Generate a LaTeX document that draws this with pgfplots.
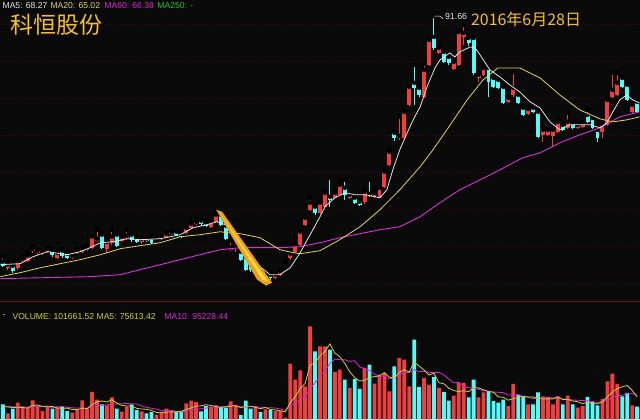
\documentclass[border=0pt]{standalone}
\usepackage{pgfplots}
\pgfplotsset{compat=1.18}
\usepackage{pgfplotstable}
\usepackage{fontspec}
\setmainfont{Liberation Sans}
\newfontfamily\cjk{Noto Sans CJK SC}
\definecolor{bg}{RGB}{10,10,10}
\definecolor{cred}{RGB}{238,62,62}
\definecolor{ccyan}{RGB}{84,250,250}
\definecolor{ma5}{RGB}{228,228,228}
\definecolor{ma20}{RGB}{222,212,96}
\definecolor{ma60}{RGB}{214,52,214}
\definecolor{gridc}{RGB}{52,14,14}
\definecolor{sepc}{RGB}{110,22,22}
\definecolor{gold}{RGB}{242,192,48}
\definecolor{vol}{RGB}{206,206,60}
\definecolor{mag}{RGB}{214,40,214}
\definecolor{grn}{RGB}{40,190,40}
\definecolor{arrowo}{RGB}{236,160,30}
\definecolor{arrowy}{RGB}{252,214,70}

% up (red) candles: index open high low close
\pgfplotstableread{
i o h l c
1 23.64 24.99 23.10 24.45
3 23.64 25.80 23.10 25.26
4 25.53 26.61 24.99 26.07
5 25.53 27.42 25.26 26.88
6 28.23 29.58 27.69 28.77
7 27.69 28.77 27.15 28.23
8 27.42 28.23 27.15 27.96
9 27.96 29.04 27.69 28.77
11 26.34 27.96 26.07 27.69
14 26.34 27.15 26.07 26.88
15 27.69 28.77 27.42 28.23
16 27.96 29.31 27.69 28.77
17 28.50 29.58 28.23 29.04
18 29.04 32.28 28.77 32.01
19 30.93 33.90 30.66 31.47
21 28.77 31.20 27.69 30.66
22 30.39 33.90 29.85 32.01
24 30.93 32.28 30.66 32.01
25 31.74 33.90 31.20 32.28
28 30.66 31.74 30.12 31.47
31 30.39 31.20 30.12 30.93
32 31.47 32.28 31.20 32.01
33 32.01 33.09 31.74 32.82
34 32.82 33.63 32.55 33.36
37 33.09 34.71 32.82 34.44
38 34.44 36.06 34.17 35.52
39 35.52 37.14 35.25 36.06
42 34.71 36.33 34.44 36.06
43 36.06 38.49 35.79 37.95
46 28.50 30.93 28.23 29.04
47 29.04 30.66 27.96 29.31
51 21.75 23.10 21.21 22.56
53 20.40 21.75 19.86 21.48
55 20.94 22.02 20.67 21.75
56 21.75 23.10 21.48 22.56
57 24.99 25.26 24.99 25.26
58 26.34 28.50 25.80 27.42
59 27.96 30.12 27.69 29.85
60 29.85 33.63 29.58 33.36
61 35.25 37.41 34.98 37.14
62 39.30 42.54 39.03 41.19
64 38.49 41.73 38.22 41.19
65 40.11 44.16 39.84 43.89
67 42.54 44.70 42.27 43.89
68 43.35 46.86 43.08 46.05
70 42.54 43.62 42.27 43.35
73 41.46 44.70 40.92 44.16
75 42.81 44.70 42.54 43.89
76 42.81 45.78 42.54 45.24
77 45.51 50.10 45.24 49.56
78 51.45 55.50 51.18 54.96
80 58.74 64.41 58.20 59.28
81 58.74 66.30 58.47 65.76
82 67.65 72.78 67.38 72.51
85 69.81 78.72 69.54 77.10
86 78.45 85.47 78.18 85.20
88 81.69 83.58 81.42 83.04
91 77.37 79.80 77.10 79.26
92 78.45 87.63 78.18 87.36
93 86.01 89.25 83.85 87.09
96 74.94 76.56 73.86 75.75
97 75.75 77.91 75.48 77.64
102 68.46 69.81 68.19 69.54
103 70.35 76.56 69.81 72.24
106 65.22 67.11 64.95 66.57
109 59.55 61.44 57.66 60.90
110 59.55 61.44 59.28 60.90
111 59.28 61.44 56.31 60.90
112 60.36 63.60 60.09 63.06
114 61.44 65.49 61.17 63.06
116 61.44 62.52 61.17 62.25
117 61.71 63.06 61.44 62.79
121 60.36 62.79 58.74 62.25
122 62.25 69.27 61.98 69.00
123 69.81 76.29 69.54 71.70
124 70.35 76.29 70.08 73.59
127 65.76 68.19 65.49 67.65
}\upT

% down (cyan) candles: index open high low close
\pgfplotstableread{
i o h l c
0 25.26 26.61 23.91 24.18
2 24.18 24.45 22.29 22.83
10 28.23 28.77 26.61 27.15
12 28.23 28.77 26.34 26.88
13 27.42 27.69 26.07 26.34
20 32.55 32.82 28.77 29.04
23 32.55 33.09 29.31 29.58
26 32.55 32.82 30.66 31.20
27 31.74 32.01 30.39 30.66
29 31.47 31.74 30.66 30.93
30 31.74 32.28 30.12 30.39
35 33.36 33.63 32.28 32.55
36 32.55 32.82 31.74 32.01
40 36.33 36.87 34.98 35.52
41 35.79 36.33 34.71 34.98
44 37.95 38.76 34.98 35.25
45 34.98 35.25 31.20 31.47
48 27.96 28.23 25.53 25.80
49 26.61 27.15 22.83 23.10
50 24.45 25.26 22.56 23.10
52 22.02 22.56 20.67 21.21
54 21.75 22.56 20.40 20.94
63 40.11 40.65 37.95 38.49
66 42.81 47.94 40.11 42.00
69 45.24 47.40 42.00 43.35
71 42.54 42.81 40.92 41.19
72 41.46 42.00 40.38 40.65
74 43.62 47.40 42.81 43.08
79 60.09 60.63 57.93 58.74
83 73.59 78.45 67.65 72.24
84 72.24 73.05 69.81 70.35
87 86.01 91.66 82.50 83.04
89 81.96 82.50 78.99 79.26
90 80.61 81.15 78.45 78.99
94 85.74 86.28 83.58 84.39
95 85.74 86.01 75.75 76.29
98 77.64 78.18 69.81 73.86
99 74.94 75.21 72.24 72.51
100 74.40 74.67 71.97 72.24
101 72.51 72.78 67.92 68.19
104 70.35 70.62 67.92 68.19
105 66.84 67.11 64.68 64.95
107 66.84 67.11 65.49 65.76
108 65.76 66.30 58.74 59.01
113 62.25 62.52 60.63 60.90
115 62.79 63.06 61.17 61.44
118 64.95 66.30 62.79 63.06
119 64.14 64.41 61.17 61.44
120 60.90 61.17 57.66 58.74
125 74.94 75.21 72.24 72.51
126 73.05 73.32 68.73 69.00
128 68.46 68.73 65.49 65.76
}\downT

% volume (thousand shares)
\pgfplotstableread{
i v
1 48
3 134
4 94
5 94
6 154
7 112
8 66
9 102
11 94
14 54
15 80
16 154
17 86
18 222
19 160
21 112
22 178
24 62
25 102
28 64
31 38
32 58
33 86
34 64
37 128
38 152
39 138
42 102
43 112
46 144
47 112
51 102
53 80
55 66
56 66
57 14
58 448
59 320
60 394
61 266
62 746
64 586
65 586
67 382
68 400
70 254
73 414
75 288
76 360
77 374
78 226
80 494
81 480
82 266
85 334
86 280
88 254
91 192
92 294
93 294
96 178
97 218
102 106
103 286
106 120
109 186
110 182
111 120
112 186
114 192
116 94
117 106
121 166
122 306
123 368
124 286
127 112
}\vupT

\pgfplotstableread{
i v
0 120
2 86
10 86
12 102
13 66
20 120
23 86
26 120
27 74
29 48
30 58
35 58
36 64
40 64
41 106
44 90
45 94
48 34
49 152
50 86
52 58
54 74
63 546
66 560
69 320
71 326
72 246
74 440
79 426
83 640
84 262
87 342
89 222
90 152
94 178
95 320
98 226
99 146
100 134
101 160
104 200
105 182
107 120
108 218
113 120
115 120
118 182
119 138
120 112
125 186
126 214
128 102
}\vdownT

% volume moving averages
\pgfplotstableread{
i m5 m10
0 104 104
1 100 104
2 96 102
3 98 102
4 96 101
5 91 100
6 112 102
7 117 104
8 104 102
9 106 101
10 104 97
11 92 102
12 90 104
13 90 97
14 80 93
15 79 92
16 91 92
17 88 89
18 119 104
19 140 110
20 148 114
21 140 116
22 158 123
23 131 125
24 112 126
25 108 128
26 109 125
27 89 124
28 84 108
29 82 97
30 73 90
31 56 83
32 53 71
33 58 71
34 61 71
35 61 67
36 66 61
37 80 67
38 93 75
39 108 84
40 109 85
41 118 92
42 112 96
43 104 99
44 95 102
45 101 105
46 108 113
47 110 111
48 95 100
49 107 101
50 106 103
51 97 103
52 86 98
53 96 95
54 80 94
55 76 91
56 69 83
57 60 73
58 134 115
59 183 131
60 248 162
61 288 179
62 435 248
63 455 294
64 508 345
65 546 397
66 605 447
67 532 484
68 503 479
69 450 479
70 383 465
71 336 471
72 309 421
73 312 407
74 336 393
75 343 363
76 349 343
77 375 342
78 338 325
79 335 335
80 376 359
81 400 375
82 379 377
83 461 399
84 428 382
85 396 386
86 356 378
87 371 375
88 294 378
89 286 357
90 250 323
91 232 294
92 223 297
93 231 262
94 222 254
95 256 253
96 253 242
97 238 230
98 224 227
99 218 220
100 181 218
101 177 215
102 155 196
103 166 195
104 177 198
105 187 184
106 179 178
107 181 168
108 168 167
109 165 171
110 165 176
111 165 172
112 179 180
113 159 163
114 160 163
115 148 156
116 142 154
117 126 152
118 139 149
119 128 144
120 126 137
121 141 142
122 181 154
123 218 178
124 248 188
125 262 194
126 272 206
127 233 207
128 180 199
}\vmaT

\pgfplotsset{
  wick/.style={only marks, mark=none, error bars/.cd, y dir=minus, y explicit,
    error mark=none, error bar style={line width=1bp, draw=#1}},
  body/.style={only marks, mark=none, error bars/.cd, y dir=minus, y explicit,
    error mark=none, error bar style={line width=3.9bp, draw=#1}},
  pricepanel/.style={at={(0bp,120bp)}, anchor=south west, width=640bp, height=300bp,
    scale only axis, xmin=-0.5, xmax=128.5, ymin=15, ymax=96, hide axis, clip=true},
}

\begin{document}
\begin{tikzpicture}
\fill[bg] (0bp,0bp) rectangle (640bp,420bp);
\draw[sepc, line width=0.8bp] (0bp,118.3bp) -- (640bp,118.3bp);

% price panel
\begin{axis}[pricepanel]
\foreach \g in {19.4,29.4,39.4,49.4,59.4,69.4,79.4,89.4}{
  \edef\tmp{\noexpand\addplot[gridc, line width=0.6bp, dash pattern=on 1bp off 2bp] coordinates {(-0.5,\g) (128.5,\g)};}\tmp
}
% wicks
\addplot[wick=cred] table[x=i, y=h, y error minus expr=\thisrow{h}-\thisrow{l}] {\upT};
\addplot[wick=ccyan] table[x=i, y=h, y error minus expr=\thisrow{h}-\thisrow{l}] {\downT};
% bodies
\addplot[body=cred] table[x=i, y=c, y error minus expr=\thisrow{c}-\thisrow{o}] {\upT};
\addplot[body=ccyan] table[x=i, y=o, y error minus expr=\thisrow{o}-\thisrow{c}] {\downT};
\end{axis}

% moving averages and annotations on top
\begin{axis}[pricepanel]
% MA60
\addplot[ma60, line width=0.9bp] coordinates {(-0.5,20.67) (17.6,21.21) (23.7,21.75) (27.7,23.1) (31.8,24.45) (35.8,25.8) (39.8,27.15) (43.9,28.5) (47.9,29.04) (55.9,29.04) (60,29.31) (64,30.39) (68,31.74) (76.1,33.9) (80.1,34.71) (84.2,37.41) (88.2,41.19) (92.2,44.7) (96.3,47.4) (100.3,50.1) (104.9,53.34) (108.4,54.69) (112.4,57.39) (116.4,59.55) (120.5,61.44) (124.5,64.41) (128.5,65.76)};
% MA20
\addplot[ma20, line width=0.8bp] coordinates {(-0.5,21.21) (3.5,22.29) (7.6,23.64) (11.6,24.72) (15.6,25.8) (19.7,27.15) (23.7,28.77) (27.7,29.58) (31.8,30.39) (35.8,32.01) (39.8,32.55) (43.9,33.36) (45.3,33.09) (47.9,32.82) (51.9,31.74) (55.9,28.5) (58.6,27.69) (60,27.42) (64,28.23) (68,31.2) (72.1,34.71) (76.1,39.3) (80.1,44.7) (84.2,50.91) (86.8,55.5) (89.6,60.9) (93.7,69) (96.9,74.4) (99.9,77.64) (104.3,77.64) (108.4,74.94) (112.4,70.35) (116.4,66.3) (120.5,63.87) (123.1,63.06) (125.9,63.6) (128.5,64.41)};
% MA5
\addplot[ma5, line width=0.8bp] coordinates {(-0.5,24.45) (3.5,24.72) (6.1,26.61) (9,27.96) (13,27.15) (15.6,27.96) (17.6,29.04) (19.7,30.39) (22.3,30.66) (25.1,31.47) (27.7,31.2) (31.8,31.47) (35.8,32.55) (38.4,34.44) (41.2,35.25) (43.2,36.06) (44.9,35.25) (45.9,33.9) (48.5,28.5) (51.9,23.91) (53.9,21.75) (55.9,21.75) (58,23.64) (60,27.69) (62,32.55) (64,37.41) (65,40.11) (67,42.54) (69.1,43.89) (71.1,43.35) (73.1,43.35) (75.1,42.81) (76.1,42.54) (77.5,44.7) (78.7,50.1) (80.1,55.5) (81.6,60.09) (82.8,63.6) (84.2,67.11) (85.6,72.51) (87.2,77.64) (88.2,79.8) (90.2,81.69) (91.2,80.61) (92.2,81.96) (94.3,83.31) (95.3,83.04) (96.3,81.15) (98.3,77.1) (100.3,75.21) (102.3,73.05) (104.3,71.16) (106.4,68.46) (108.4,66.84) (110.4,63.06) (112.4,60.9) (114.4,62.25) (116.4,62.25) (118.5,62.25) (120.5,61.44) (121.9,62.79) (123.1,65.76) (124.5,69) (125.9,70.35) (127.1,69) (128.5,68.19)};
% high marker
\addplot[ma5, line width=0.6bp] coordinates {(87,91.66) (88.2,91.66) (88.8,90.95)};
% yellow arrow
\addplot[fill=arrowo, draw=none] coordinates {(43.04,39.3) (44.25,38.76) (54.33,19.59) (53.12,18.78) (51.31,20.4)} -- cycle;
\addplot[fill=arrowy, draw=none] coordinates {(43.65,38.76) (53.53,19.86) (52.32,20.4)} -- cycle;
\end{axis}

% volume panel
\begin{axis}[at={(0bp,0bp)}, anchor=south west, width=640bp, height=110bp,
  scale only axis, xmin=-0.5, xmax=128.5, ymin=0, ymax=880, hide axis, clip=true]
\addplot[ybar, bar width=3.8bp, bar shift=0pt, fill=cred, draw=none] table[x=i, y=v] {\vupT};
\addplot[ybar, bar width=3.8bp, bar shift=0pt, fill=ccyan, draw=none] table[x=i, y=v] {\vdownT};
\addplot[mag, line width=0.8bp] table[x=i, y=m10] {\vmaT};
\addplot[vol, line width=0.8bp] table[x=i, y=m5] {\vmaT};
\end{axis}

% texts
\begin{scope}[every node/.style={inner sep=0pt, anchor=west}]
\node[font=\fontsize{8.6bp}{10bp}\selectfont, text=ma5] at (2bp,414bp) {MA5: 68.27};
\node[font=\fontsize{8.6bp}{10bp}\selectfont, text=ma20] at (50bp,414bp) {MA20: 65.02};
\node[font=\fontsize{8.6bp}{10bp}\selectfont, text=mag] at (104bp,414bp) {MA60: 66.38};
\node[font=\fontsize{8.6bp}{10bp}\selectfont, text=grn] at (157bp,414bp) {MA250: -};
\node[font=\fontsize{23bp}{26bp}\selectfont\cjk, text=gold] at (10bp,395bp) {科恒股份};
\node[font=\fontsize{16bp}{19bp}\selectfont\cjk, text=gold] at (471bp,401bp) {2016年6月28日};
\node[font=\fontsize{8.8bp}{10bp}\selectfont, text=ma5] at (445bp,403bp) {91.66};
\node[font=\fontsize{8.6bp}{10bp}\selectfont, text=ma5] at (2bp,103.3bp) {-};
\node[font=\fontsize{8.6bp}{10bp}\selectfont, text=vol] at (12bp,103.3bp) {VOLUME: 101661.52 MA5: 75613.42};
\node[font=\fontsize{8.6bp}{10bp}\selectfont, text=mag] at (164bp,103.3bp) {MA10: 95228.44};
\end{scope}
\end{tikzpicture}
\end{document}
